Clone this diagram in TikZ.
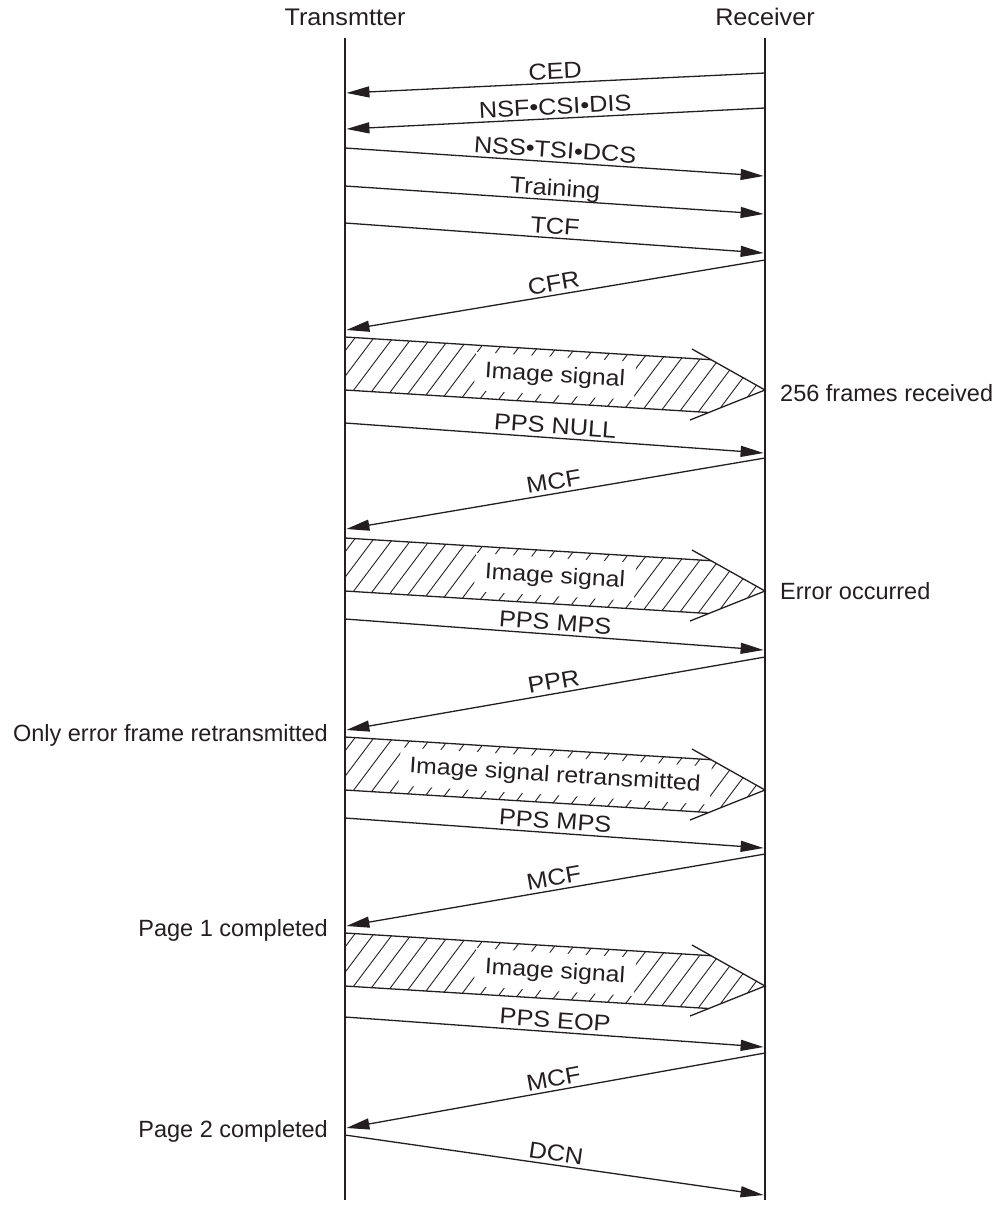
\documentclass[tikz,border=0pt]{standalone}
\usepackage{fontspec}
\setmainfont{Liberation Sans}
\newfontfamily\widefont[FakeStretch=1.1]{Liberation Sans}
\newfontfamily\headfont[FakeStretch=1.05]{Liberation Sans}
\usetikzlibrary{arrows.meta}
\definecolor{ink}{RGB}{35,31,32}
\begin{document}
\begin{tikzpicture}[x=1pt,y=1pt,
  lifeline/.style={ink, line width=2.8pt},
  msg/.style={ink, line width=1.3pt, -{Triangle[length=23pt,width=11pt]}},
  msglbl/.style={font=\widefont\fontsize{23}{27}\selectfont, text=ink, sloped, above, inner sep=3.5pt, text depth=0pt, midway},
  headlbl/.style={font=\headfont\fontsize{24}{28}\selectfont, text=ink, inner sep=0pt, anchor=base},
  side/.style={font=\fontsize{23.5}{27}\selectfont, text=ink, inner sep=0pt},
  bandedge/.style={ink, line width=1.3pt},
  hatchline/.style={ink, line width=0.9pt},
  bandlbl/.style={fill=white, rotate=-3.55, inner xsep=10pt, inner ysep=0pt, minimum height=38pt, text height=16pt, text depth=4pt, font=\widefont\fontsize{22.5}{26}\selectfont, text=ink},
  pics/imgband/.style={code={
    \begin{scope}
      \clip (0,0) -- (366,-22.7) -- (420,-53) -- (363.6,-75.5) -- (0,-53) -- cycle;
      \foreach \x in {-95,-76,...,440} \draw[hatchline] (\x,-90) -- ++(75,100);
    \end{scope}
    \node[bandlbl] (-lbl) at (210,-39) {#1};
    \draw[bandedge] (0,0) -- (366,-22.7);
    \draw[bandedge] (0,-53) -- (363.6,-75.5);
    \draw[bandedge] (347,-12) -- (420,-53) -- (345,-83);
  }}
]
\useasboundingbox (0,0) rectangle (1002,-1207);

% headers and lifelines
\node[headlbl] (tx) at (345,-26) {Transmtter};
\node[headlbl] (rx) at (765,-26) {Receiver};
\coordinate (txtop) at (345,-38);
\coordinate (txbot) at (345,-1200);
\coordinate (rxtop) at (765,-38);
\coordinate (rxbot) at (765,-1200);
\draw[lifeline] (txtop) -- (txbot);
\draw[lifeline] (rxtop) -- (rxbot);

% message end points
\coordinate (r1) at (765,-73);    \coordinate (t1) at (346.4,-93);
\coordinate (r2) at (765,-108);   \coordinate (t2) at (346.4,-129);
\coordinate (t3) at (345,-148);   \coordinate (r3) at (763.6,-176);
\coordinate (t4) at (345,-186);   \coordinate (r4) at (763.6,-214);
\coordinate (t5) at (345,-223);   \coordinate (r5) at (763.6,-253);
\coordinate (r6) at (765,-260);   \coordinate (t6) at (346.4,-330);
\coordinate (t7) at (345,-423);   \coordinate (r7) at (763.6,-453);
\coordinate (r8) at (765,-458);   \coordinate (t8) at (346.4,-529);
\coordinate (t9) at (345,-619);   \coordinate (r9) at (763.6,-650);
\coordinate (r10) at (765,-657);  \coordinate (t10) at (346.4,-730);
\coordinate (t11) at (345,-818);  \coordinate (r11) at (763.6,-848);
\coordinate (r12) at (765,-854);  \coordinate (t12) at (346.4,-926);
\coordinate (t13) at (345,-1017); \coordinate (r13) at (763.6,-1047);
\coordinate (r14) at (765,-1053); \coordinate (t14) at (346.4,-1128);
\coordinate (t15) at (345,-1135); \coordinate (r15) at (763.6,-1195);

\draw[msg] (r1) -- (t1) node[msglbl] (m1) {CED};
\draw[msg] (r2) -- (t2) node[msglbl] (m2) {NSF•CSI•DIS};
\draw[msg] (t3) -- (r3) node[msglbl] (m3) {NSS•TSI•DCS};
\draw[msg] (t4) -- (r4) node[msglbl] (m4) {Training};
\draw[msg] (t5) -- (r5) node[msglbl] (m5) {TCF};
\draw[msg] (r6) -- (t6) node[msglbl] (m6) {CFR};
\pic (b1) at (345,-337) {imgband={Image signal}};
\draw[msg] (t7) -- (r7) node[msglbl] (m7) {PPS NULL};
\draw[msg] (r8) -- (t8) node[msglbl] (m8) {MCF};
\pic (b2) at (345,-538) {imgband={Image signal}};
\draw[msg] (t9) -- (r9) node[msglbl] (m9) {PPS MPS};
\draw[msg] (r10) -- (t10) node[msglbl] (m10) {PPR};
\pic (b3) at (345,-737) {imgband={Image signal retransmitted}};
\draw[msg] (t11) -- (r11) node[msglbl] (m11) {PPS MPS};
\draw[msg] (r12) -- (t12) node[msglbl] (m12) {MCF};
\pic (b4) at (345,-933) {imgband={Image signal}};
\draw[msg] (t13) -- (r13) node[msglbl] (m13) {PPS EOP};
\draw[msg] (r14) -- (t14) node[msglbl] (m14) {MCF};
\draw[msg] (t15) -- (r15) node[msglbl] (m15) {DCN};

% side notes
\node[side, anchor=base west] (s1) at (780,-401.7) {256 frames received};
\node[side, anchor=base west] (s2) at (780,-599.3) {Error occurred};
\node[side, anchor=base east] (s3) at (328,-741.7) {Only error frame retransmitted};
\node[side, anchor=base east] (s4) at (328,-936) {Page 1 completed};
\node[side, anchor=base east] (s5) at (328,-1137.3) {Page 2 completed};
\end{tikzpicture}
\end{document}
